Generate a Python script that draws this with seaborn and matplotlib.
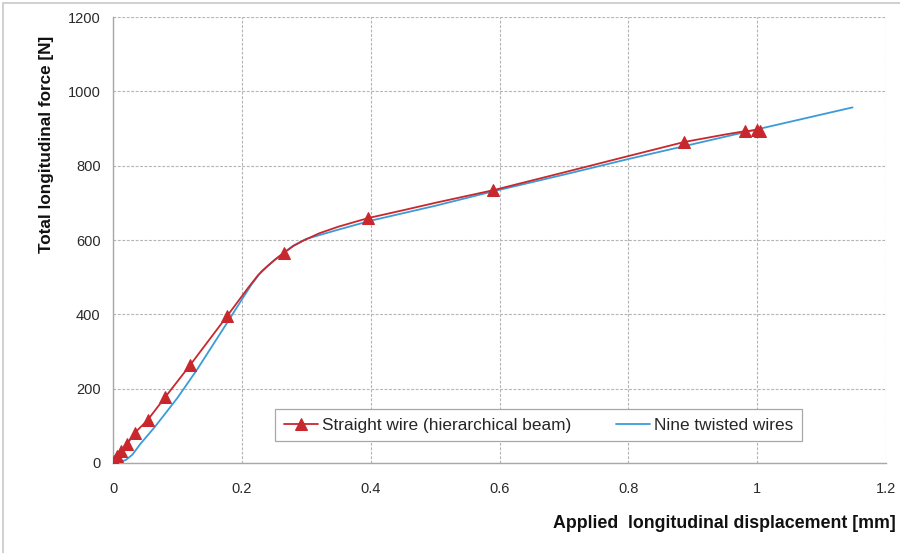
import matplotlib
matplotlib.use("Agg")
import matplotlib.pyplot as plt
import seaborn as sns
import pandas as pd
from matplotlib.patches import Rectangle

# Data
red_x = [0.0, 0.002, 0.006, 0.012, 0.022, 0.034, 0.054, 0.081, 0.12, 0.177, 0.195, 0.21, 0.225, 0.24, 0.252, 0.265,
         0.28, 0.295, 0.32, 0.35, 0.396, 0.45, 0.5, 0.59, 0.7, 0.8, 0.887, 0.95, 0.981, 1.0, 1.005]
red_y = [0, 5, 19, 32, 51, 81, 116, 177, 264, 395, 437, 472, 505, 530, 548, 565,
         584, 598, 618, 636, 659, 680, 700, 734, 782, 826, 864, 884, 893, 896, 893]
red_marker_idx = [0, 1, 2, 3, 4, 5, 6, 7, 8, 9, 15, 20, 23, 26, 28, 29, 30]

blue_x = [0.0, 0.01, 0.02, 0.03, 0.042, 0.065, 0.1, 0.13, 0.18, 0.2, 0.215, 0.23, 0.25, 0.265, 0.28, 0.3,
          0.35, 0.4, 0.5, 0.59, 0.7, 0.8, 0.9, 1.0, 1.148]
blue_y = [0, 2, 8, 22, 50, 97, 175, 250, 385, 440, 480, 515, 545, 566, 585, 603,
          628, 652, 692, 731, 776, 818, 858, 898, 957]

x_ticks = [0, 0.2, 0.4, 0.6, 0.8, 1, 1.2]
x_tick_labels = ["0", "0.2", "0.4", "0.6", "0.8", "1", "1.2"]
y_ticks = [0, 200, 400, 600, 800, 1000, 1200]

label_red = "Straight wire (hierarchical beam)"
label_blue = "Nine twisted wires"

sns.set_style("white")
plt.rcParams['font.family'] = ['Liberation Sans', 'DejaVu Sans']

fig = plt.figure(figsize=(9, 5.53), dpi=100)
ax = fig.add_axes([0.1256, 0.163, 0.8589, 0.806])

red_df = pd.DataFrame({"x": red_x, "y": red_y})
blue_df = pd.DataFrame({"x": blue_x, "y": blue_y})

sns.lineplot(data=red_df, x="x", y="y", ax=ax, color="#C8282D", linewidth=1.3,
             marker="^", markersize=8.5, markevery=red_marker_idx, markeredgecolor="#C8282D",
             sort=False, label=label_red, zorder=4)
sns.lineplot(data=blue_df, x="x", y="y", ax=ax, color="#3B9BD9", linewidth=1.3,
             sort=False, label=label_blue, zorder=3)

ax.set_xlim(0, 1.2)
ax.set_ylim(0, 1200)
ax.set_xticks(x_ticks)
ax.set_xticklabels(x_tick_labels)
ax.set_yticks(y_ticks)

ax.grid(True, color="#B4B4B4", linestyle=(0, (2.5, 1.5)), linewidth=0.8)
for s in ["top", "right"]:
    ax.spines[s].set_visible(False)
for s in ["left", "bottom"]:
    ax.spines[s].set_color("#A8A8A8")
    ax.spines[s].set_linewidth(1.0)

ax.tick_params(axis="both", direction="out", length=4, width=0.8, color="#A8A8A8",
               labelsize=10.5, labelcolor="#2A2A2A", pad=5)
ax.tick_params(axis="x", pad=10)

ax.set_xlabel("Applied  longitudinal displacement [mm]", fontsize=12.8, fontweight="bold",
              color="#111111")
ax.xaxis.set_label_coords(1.012, -0.118)
ax.xaxis.label.set_ha("right")
ax.set_ylabel("Total longitudinal force [N]", fontsize=12.3, fontweight="bold", color="#111111")
ax.yaxis.set_label_coords(-0.077, 0.715)

leg = ax.legend(loc="lower left", bbox_to_anchor=(0.21, 0.048), ncol=2, fontsize=12.4,
                frameon=True, fancybox=False, edgecolor="#A8A8A8", framealpha=1,
                handlelength=2.0, columnspacing=2.6, borderpad=0.5, handletextpad=0.2,
                borderaxespad=0)
leg.get_frame().set_linewidth(0.9)

fig.patches.append(Rectangle((0.003, -0.01), 1.1, 1.005, transform=fig.transFigure,
                             fill=False, edgecolor="#C8C8C8", linewidth=1.2))

fig.savefig("out.png", dpi=100)
